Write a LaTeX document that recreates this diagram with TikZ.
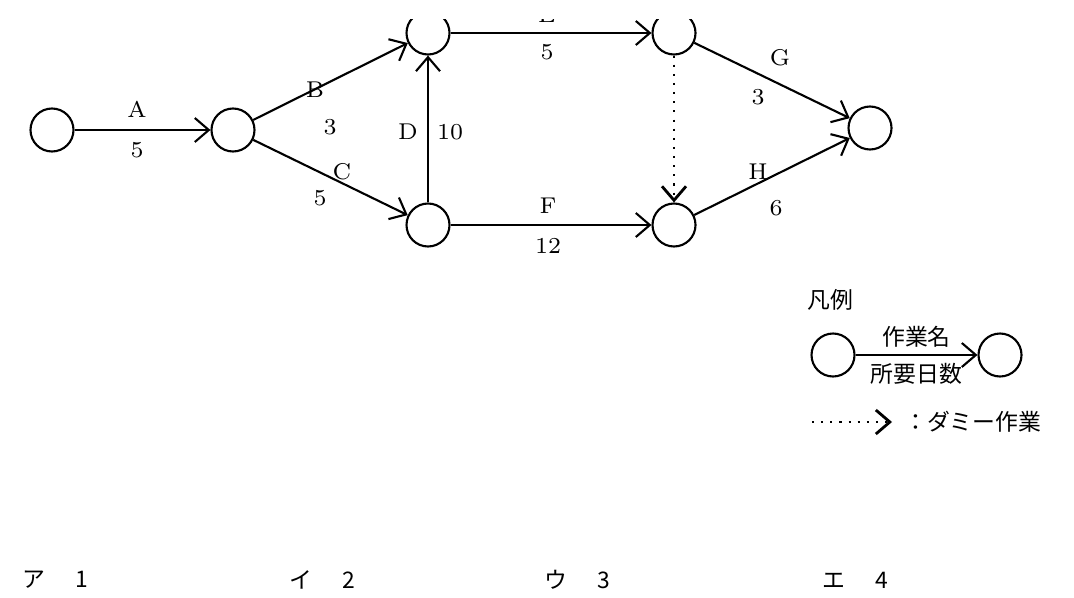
\documentclass[tikz,border=0pt]{standalone}
\usepackage{fontspec}
\newfontfamily\jp{Noto Sans CJK JP}
\usetikzlibrary{arrows.meta}

\begin{document}
\begin{tikzpicture}[x=0.1mm,y=-0.1mm,
  ev/.style={draw,circle,line width=0.6pt,minimum size=4.3mm,inner sep=0pt},
  act/.style={line width=0.6pt,-{Straight Barb[length=1.4mm,width=2.4mm]}},
  lbl/.style={font=\fontsize{6.5}{8}\selectfont,inner sep=1pt}]
\useasboundingbox (0,0) rectangle (1074,597);
\begin{scope}
\clip (0,19) rectangle (1074,597);
% nodes
\node[ev] (n1) at (52,130) {};
\node[ev] (n2) at (233,130) {};
\node[ev] (n3) at (428,33) {};
\node[ev] (n4) at (428,225) {};
\node[ev] (n5) at (674,33) {};
\node[ev] (n6) at (674,225) {};
\node[ev] (n7) at (870,128) {};
% activities
\draw[act] (n1) -- (n2);
\draw[act] (n2) -- (n3);
\draw[act] (n2) -- (n4);
\draw[act] (n4) -- (n3);
\draw[act] (n3) -- (n5);
\draw[act] (n4) -- (n6);
\draw[act] (n5) -- (n7);
\draw[act] (n6) -- (n7);
\draw[act,dotted,line width=0.8pt] (n5) -- (n6);
% labels
\node[lbl] (la) at (137,109) {A};
\node[lbl] (da) at (137,150) {5};
\node[lbl] (lb) at (315,90) {B};
\node[lbl] (db) at (330,127) {3};
\node[lbl] (lc) at (342,172) {C};
\node[lbl] (dc) at (320,198) {5};
\node[lbl] (ld) at (408,132) {D};
\node[lbl] (dd) at (450,132) {10};
\node[lbl] (le) at (547,15) {E};
\node[lbl] (de) at (547,52) {5};
\node[lbl] (lf) at (548,206) {F};
\node[lbl] (df) at (548,246) {12};
\node[lbl] (lg) at (780,58) {G};
\node[lbl] (dg) at (758,97) {3};
\node[lbl] (lh) at (758,172) {H};
\node[lbl] (dh) at (776,208) {6};
\end{scope}
% legend
\node[lbl,font=\jp\fontsize{6.5}{8}\selectfont] (lg0) at (830,300) {凡例};
\node[ev] (l1) at (833,355) {};
\node[ev] (l2) at (1000,355) {};
\draw[act] (l1) -- node[lbl,above=1pt,font=\jp\fontsize{6.5}{8}\selectfont] {作業名}
  node[lbl,below=1pt,font=\jp\fontsize{6.5}{8}\selectfont] {所要日数} (l2);
\coordinate (d1) at (812,422);
\coordinate (d2) at (892,422);
\draw[act,dotted,line width=0.8pt] (d1) -- (d2);
\node[lbl,anchor=west,font=\jp\fontsize{6.5}{8}\selectfont] (dm) at (900,422) {：ダミー作業};
% choices
\node[lbl,anchor=west,font=\jp\fontsize{6.5}{8}\selectfont] (ca) at (18,580) {ア\hspace{3mm}1};
\node[lbl,anchor=west,font=\jp\fontsize{6.5}{8}\selectfont] (cb) at (285,580) {イ\hspace{3mm}2};
\node[lbl,anchor=west,font=\jp\fontsize{6.5}{8}\selectfont] (cc) at (540,580) {ウ\hspace{3mm}3};
\node[lbl,anchor=west,font=\jp\fontsize{6.5}{8}\selectfont] (cd) at (818,580) {エ\hspace{3mm}4};
\end{tikzpicture}
\end{document}
